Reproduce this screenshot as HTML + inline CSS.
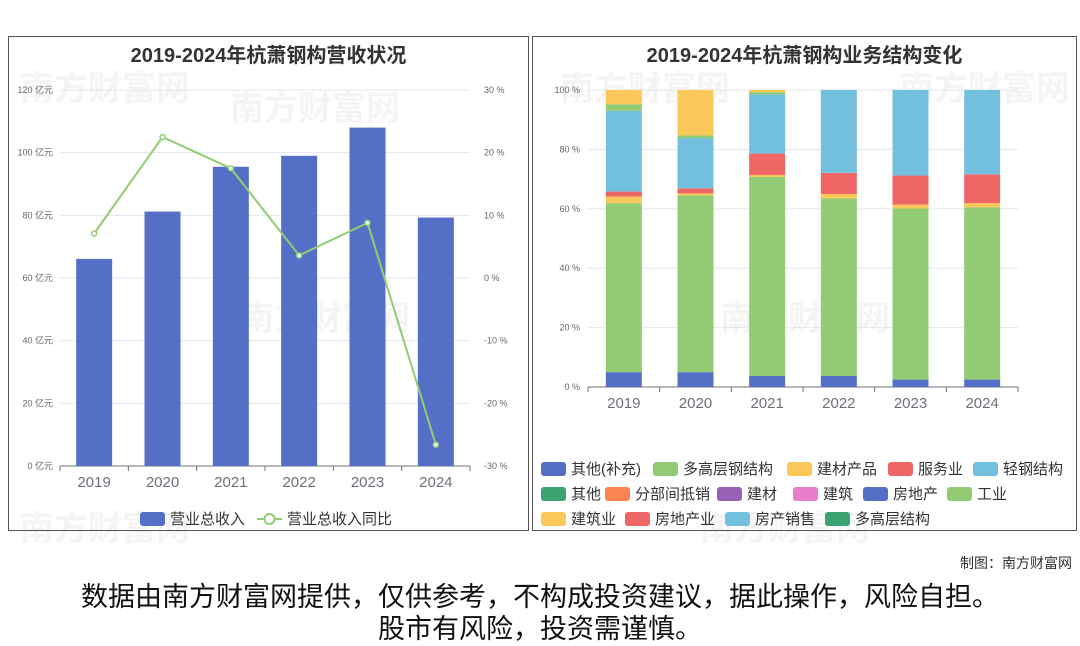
<!DOCTYPE html>
<html><head><meta charset="utf-8">
<style>
html,body{margin:0;padding:0;background:#fff;}
body{width:1080px;height:646px;overflow:hidden;position:relative;font-family:"Liberation Sans","Noto Sans CJK SC",sans-serif;}
.panel{position:absolute;border:1px solid #555;box-sizing:border-box;}
.lg{position:absolute;font-size:15px;color:#333;white-space:nowrap;display:flex;align-items:center;}
.lg i{display:inline-block;width:25px;height:14px;border-radius:3px;margin-right:5px;}
.t{position:absolute;white-space:nowrap;}
svg{position:absolute;left:0;top:0;}
</style></head><body>
<div class="panel" style="left:8px;top:36px;width:521px;height:495px"></div>
<div class="panel" style="left:532px;top:36px;width:545px;height:495px"></div>
<svg id="s" width="1080" height="646"></svg>
<div class="t" style="left:8px;width:521px;text-align:center;top:39px;font-size:20px;font-weight:bold;color:#333">2019-2024年杭萧钢构营收状况</div>
<div class="t" style="left:532px;width:545px;text-align:center;top:39px;font-size:20px;font-weight:bold;color:#333">2019-2024年杭萧钢构业务结构变化</div>
<div class="lg" style="left:140px;top:508px"><i style="background:#5470c6"></i>营业总收入</div>
<div class="lg" style="left:257px;top:508px"><svg width="25" height="14" style="position:static;margin-right:5px"><line x1="0" y1="7" x2="25" y2="7" stroke="#91cc75" stroke-width="2"/><circle cx="12.5" cy="7" r="5" fill="#fff" stroke="#91cc75" stroke-width="2"/></svg>营业总收入同比</div>
<div id="rl"></div>
<div class="t" style="right:8px;top:553px;font-size:14px;color:#333">制图：南方财富网</div>
<div class="t" style="left:0;width:1080px;text-align:center;top:581px;font-size:27px;line-height:32px;color:#111">数据由南方财富网提供，仅供参考，不构成投资建议，据此操作，风险自担。<br>股市有风险，投资需谨慎。</div>
<script>
const years=["2019","2020","2021","2022","2023","2024"];
const revenue=[66.1,81.2,95.5,99.0,108.0,79.3];
const growth=[7.1,22.5,17.5,3.6,8.8,-26.6];
const leftTicks=[0,20,40,60,80,100,120];
const rightTicks=[-30,-20,-10,0,10,20,30];
const pctTicks=[0,20,40,60,80,100];
const segNames=["其他(补充)","多高层钢结构","建材产品","服务业","轻钢结构","工业","建筑业"];
const segColors=["#5470c6","#91cc75","#fac858","#ee6666","#73c0de","#91cc75","#fac858"];
const sOther=[5.0,5.0,3.7,3.7,2.5,2.5];
const sMulti=[56.9,59.5,67.0,59.8,57.6,58.0];
const sMat=[2.2,0.7,0.7,1.5,1.3,1.4];
const sServ=[1.7,1.7,7.2,7.1,9.8,9.7];
const sLight=[27.2,16.9,19.9,27.9,28.8,28.4];
const sInd=[2.2,0.9,0.8,0,0,0];
const sCons=[4.8,15.3,0.7,0,0,0];
const legendNames=[["其他(补充)","#5470c6",541,458],["多高层钢结构","#91cc75",653,458],["建材产品","#fac858",787,458],["服务业","#ee6666",888,458],["轻钢结构","#73c0de",973,458],
["其他","#3ba272",541,483],["分部间抵销","#fc8452",605,483],["建材","#9a60b4",717,483],["建筑","#ea7ccc",793,483],["房地产","#5470c6",863,483],["工业","#91cc75",947,483],
["建筑业","#fac858",541,508],["房地产业","#ee6666",625,508],["房产销售","#73c0de",725,508],["多高层结构","#3ba272",825,508]];
const NS="http://www.w3.org/2000/svg",s=document.getElementById('s');
function mk(t,a,txt){const e=document.createElementNS(NS,t);for(const k in a)e.setAttribute(k,a[k]);if(txt!==undefined)e.textContent=txt;s.appendChild(e);return e;}
[[20,100],[230,120],[560,100],[900,100],[240,330],[720,330],[20,540],[700,540]].forEach(p=>{
const w=mk('text',{x:p[0],y:p[1],'font-size':34,fill:'#000','fill-opacity':0.045,'font-weight':'bold'},'南方财富网');
});
const L={x0:60,x1:470,y0:466,y1:90};
const yL=v=>L.y0-(v/120)*(L.y0-L.y1);
const yR=v=>278-(v/30)*(278-L.y1);
const bw=(L.x1-L.x0)/years.length;
const xc=i=>L.x0+bw*(i+0.5);
leftTicks.forEach(v=>{const y=yL(v);
if(v>0){const g=mk('line',{x1:L.x0,x2:L.x1,y1:y,y2:y,stroke:'#e0e6f1'});}
const t=mk('text',{x:53,y:y+3,'font-size':9,fill:'#666','text-anchor':'end'},v+' 亿元');});
rightTicks.forEach(v=>{const t=mk('text',{x:484,y:yR(v)+3,'font-size':9,fill:'#666'},v+' %');});
mk('line',{x1:L.x0,x2:L.x1,y1:L.y0,y2:L.y0,stroke:'#6e7079'});
years.forEach((yr,i)=>{
const r=mk('rect',{x:xc(i)-18,y:yL(revenue[i]),width:36,height:L.y0-yL(revenue[i]),fill:'#5470c6'});

mk('line',{x1:L.x0+bw*i,x2:L.x0+bw*i,y1:L.y0,y2:L.y0+5,stroke:'#6e7079'});
const t=mk('text',{x:xc(i),y:487,'font-size':15,fill:'#6e7079','text-anchor':'middle'},yr);});
mk('line',{x1:L.x1,x2:L.x1,y1:L.y0,y2:L.y0+5,stroke:'#6e7079'});
const pl=mk('polyline',{points:growth.map((g,i)=>xc(i)+','+yR(g)).join(' '),fill:'none',stroke:'#91cc75','stroke-width':2});

growth.forEach((g,i)=>{const c=mk('circle',{cx:xc(i),cy:yR(g),r:2.5,fill:'#fff',stroke:'#91cc75','stroke-width':1.5});});
const R={x0:588,x1:1018,y0:387,y1:90};
const yP=v=>R.y0-(v/100)*(R.y0-R.y1);
const rb=(R.x1-R.x0)/years.length;
const xr=i=>R.x0+rb*(i+0.5);
pctTicks.forEach(v=>{const y=yP(v);
if(v>0){const g=mk('line',{x1:R.x0,x2:R.x1,y1:y,y2:y,stroke:'#e0e6f1'});}
const t=mk('text',{x:580,y:y+3,'font-size':9,fill:'#666','text-anchor':'end'},v+' %');});
mk('line',{x1:R.x0,x2:R.x1,y1:R.y0,y2:R.y0,stroke:'#6e7079'});
const series=[sOther,sMulti,sMat,sServ,sLight,sInd,sCons];
years.forEach((yr,i)=>{let acc=0;
series.forEach((ser,k)=>{const v=ser[i];if(v<=0)return;
const r=mk('rect',{x:xr(i)-18,y:yP(acc+v),width:36,height:yP(acc)-yP(acc+v),fill:segColors[k]});
acc+=v;});
mk('line',{x1:R.x0+rb*i,x2:R.x0+rb*i,y1:R.y0,y2:R.y0+5,stroke:'#6e7079'});
const t=mk('text',{x:xr(i),y:408,'font-size':15,fill:'#6e7079','text-anchor':'middle'},yr);});
mk('line',{x1:R.x1,x2:R.x1,y1:R.y0,y2:R.y0+5,stroke:'#6e7079'});
const rl=document.getElementById('rl');
legendNames.forEach(l=>{const d=document.createElement('div');d.className='lg';d.style.left=l[2]+'px';d.style.top=l[3]+'px';
d.innerHTML='<i style="background:'+l[1]+'"></i>'+l[0];


rl.appendChild(d);});
</script>
</body></html>
